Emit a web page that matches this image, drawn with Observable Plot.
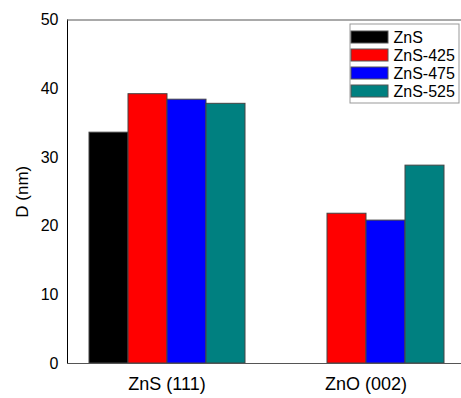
<!DOCTYPE html>
<html>
<head>
<meta charset="utf-8">
<script src="https://cdn.jsdelivr.net/npm/d3@7"></script>
<script src="https://cdn.jsdelivr.net/npm/@observablehq/plot@0.6"></script>
<style>
  body { margin: 0; background: white; }
  #wrap { position: relative; width: 461px; height: 398px; overflow: hidden; font-family: "Liberation Sans", Arial, sans-serif; }
  #legend { position: absolute; left: 349px; top: 23px; width: 110px; height: 80px; }
  svg text { fill: #000; }
  g[aria-label^="fx-axis"] text { font-size: 18px; }
  g[aria-label="y-axis label"] text, g[aria-label="y-axis"] > text { font-size: 17px; }
</style>
</head>
<body>
<div id="wrap"></div>
<script>
const groups = ["ZnS (111)", "ZnO (002)"];
const series = ["ZnS", "ZnS-425", "ZnS-475", "ZnS-525"];
const valuesZnS111 = [33.6, 39.2, 38.4, 37.8];
const valuesZnO002 = [null, 21.8, 20.8, 28.8];
const colors = ["#000000", "#ff0000", "#0000ff", "#008080"];
const yTicks = [0, 10, 20, 30, 40, 50];

const data = [];
series.forEach((s, i) => {
  if (valuesZnS111[i] != null) data.push({group: groups[0], series: s, value: valuesZnS111[i]});
  if (valuesZnO002[i] != null) data.push({group: groups[1], series: s, value: valuesZnO002[i]});
});

const font = "'Liberation Sans', Arial, sans-serif";

const plot = Plot.plot({
  width: 461,
  height: 398,
  marginTop: 19.5,
  marginBottom: 35,
  marginLeft: 67,
  marginRight: 0,
  style: {fontFamily: font, fontSize: "16px", background: "white"},
  fx: {domain: groups, range: [67, 465.5], padding: 0, axis: "bottom", tickSize: 0, tickPadding: 14, label: null},
  x: {domain: series, paddingInner: 0, paddingOuter: 0.5, axis: null},
  y: {domain: [0, 50], ticks: yTicks, tickSize: 0, tickPadding: 9, line: true, label: "D (nm)", labelArrow: "none", labelAnchor: "center", labelOffset: 52},
  color: {domain: series, range: colors},
  marks: [
    Plot.barY(data, {fx: "group", x: "series", y: "value", fill: "series", stroke: "#444", strokeWidth: 1}),
    Plot.ruleY([0, 50], {stroke: "#555"})
  ]
});
document.getElementById("wrap").appendChild(plot);

const legend = Plot.plot({
  width: 110,
  height: 80,
  margin: 0.5,
  style: {fontFamily: font, fontSize: "16px", background: "white", overflow: "visible"},
  x: {domain: [0, 1], range: [2, 39], axis: null},
  y: {domain: series, range: [2.25, 80.25], padding: 0.333, axis: null},
  color: {domain: series, range: colors},
  marks: [
    Plot.frame({stroke: "#999"}),
    Plot.barX(series, {y: d => d, x1: 0, x2: 1, fill: d => d, stroke: "#555", strokeWidth: 1}),
    Plot.text(series, {y: d => d, x: 1, text: d => d, dx: 5, textAnchor: "start", fontSize: 16, fill: "#000"})
  ]
});
const box = document.createElement("div");
box.id = "legend";
box.appendChild(legend);
document.getElementById("wrap").appendChild(box);
</script>
</body>
</html>
